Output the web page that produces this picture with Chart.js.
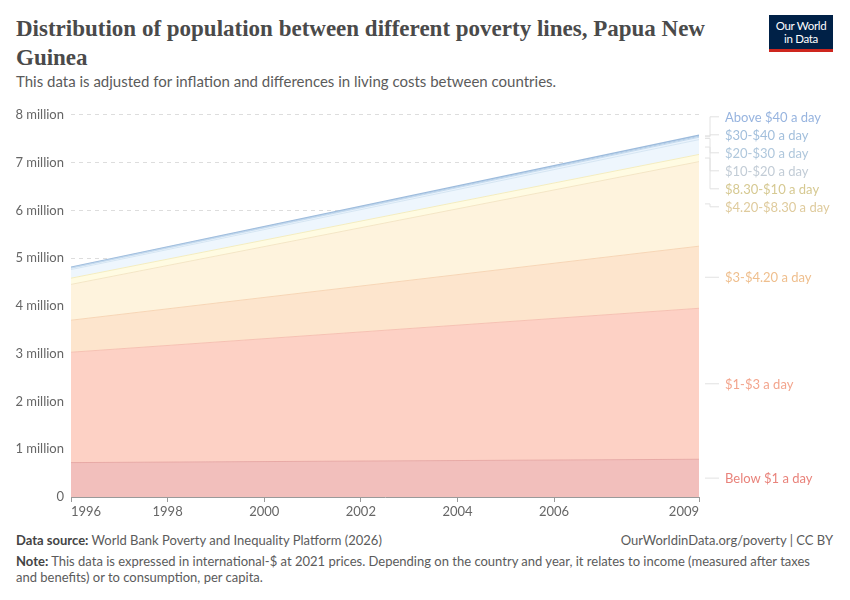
<!DOCTYPE html>
<html>
<head>
<meta charset="utf-8">
<script src="https://cdn.jsdelivr.net/npm/chart.js@4"></script>
<style>
  html, body { margin: 0; padding: 0; background: #fff; }
  body { width: 850px; height: 600px; position: relative; overflow: hidden; font-family: Lato, "Noto Sans", sans-serif; }
  #title { position: absolute; left: 16px; top: 14px; width: 740px; font-family: "Liberation Serif", "DejaVu Serif", serif; font-weight: bold; font-size: 23px; line-height: 29px; color: #4a4a4a; }
  #subtitle { position: absolute; left: 16px; top: 72px; font-size: 15px; color: #5b5b5b; }
  #logo { position: absolute; left: 769px; top: 15px; width: 64px; background: #002147; border-bottom: 3px solid #ce261e; color: #fff; font-size: 11.5px; line-height: 13px; text-align: center; padding-top: 4px; box-sizing: content-box; height: 30px; letter-spacing: -0.3px; }
  #chartwrap { position: absolute; left: 0; top: 100px; width: 850px; height: 420px; }
  #source { position: absolute; left: 16px; top: 532px; font-size: 13px; color: #5b5b5b; }
  #source b, #note b { font-weight: bold; color: #444; }
  #credit { position: absolute; right: 17px; top: 532px; font-size: 13px; color: #5b5b5b; }
  #note { position: absolute; left: 16px; top: 553px; width: 810px; font-size: 13px; line-height: 16px; color: #5b5b5b; }
</style>
</head>
<body>
<div id="title">Distribution of population between different poverty lines, Papua New<br>Guinea</div>
<div id="subtitle">This data is adjusted for inflation and differences in living costs between countries.</div>
<div id="logo">Our World<br>in Data</div>
<div id="chartwrap"><canvas id="c" width="850" height="420"></canvas></div>
<div id="source"><b>Data source:</b> World Bank Poverty and Inequality Platform (2026)</div>
<div id="credit">OurWorldinData.org/poverty | CC BY</div>
<div id="note"><b>Note:</b> This data is expressed in international-$ at 2021 prices. Depending on the country and year, it relates to income (measured after taxes and benefits) or to consumption, per capita.</div>
<script>
const years = [1996, 2009];
const xTicks = [1996, 1998, 2000, 2002, 2004, 2006, 2009];
const yTicks = [0, 1e6, 2e6, 3e6, 4e6, 5e6, 6e6, 7e6, 8e6];
const seriesNames = ["Below $1 a day", "$1-$3 a day", "$3-$4.20 a day", "$4.20-$8.30 a day", "$8.30-$10 a day", "$10-$20 a day", "$20-$30 a day", "$30-$40 a day", "Above $40 a day"];
const below1   = [720000, 790000];
const d1to3    = [2310000, 3160000];
const d3to42   = [670000, 1300000];
const d42to83  = [750000, 1770000];
const d83to10  = [130000, 150000];
const d10to20  = [180000, 310000];
const d20to30  = [30000, 50000];
const d30to40  = [10000, 20000];
const above40  = [10000, 20000];
const seriesValues = [below1, d1to3, d3to42, d42to83, d83to10, d10to20, d20to30, d30to40, above40];
const fillColors   = ["#f2bfbc", "#fdd1c5", "#fde5cd", "#fef3dd", "#fffbe2", "#eef6fd", "#eaf3fc", "#e6f0fb", "#e3eefa"];
const lineColors   = ["#e8aaa6", "#f6c2b3", "#f7d6b6", "#f4e6c6", "#f4edc0", "#d6e6f3", "#c4daee", "#b2cce6", "#9dbbdc"];
const labelColors  = ["#e9837b", "#f3a58d", "#efbf8e", "#dfcb9d", "#d6c992", "#c2ccd6", "#afc7dc", "#a2bfdc", "#97b4df"];

const datasets = seriesValues.map((vals, i) => ({
  label: seriesNames[i],
  data: years.map((y, j) => ({ x: y, y: vals[j] })),
  backgroundColor: fillColors[i],
  borderColor: lineColors[i],
  borderWidth: i === seriesValues.length - 1 ? 1.5 : 1,
  pointRadius: 0,
  fill: i === 0 ? 'origin' : '-1',
  tension: 0
}));

const labelPlugin = {
  id: 'endLabels',
  afterDatasetsDraw(chart) {
    const ctx = chart.ctx;
    const area = chart.chartArea;
    const yScale = chart.scales.y;
    const items = [];
    chart.data.datasets.forEach((ds, i) => {
      const meta = chart.getDatasetMeta(i);
      const pt = meta.data[meta.data.length - 1];
      const top = pt.y;
      let bottom;
      if (i === 0) bottom = yScale.getPixelForValue(0);
      else { const pm = chart.getDatasetMeta(i - 1); bottom = pm.data[pm.data.length - 1].y; }
      items.push({ i, nat: (top + bottom) / 2, text: ds.label });
    });
    items.sort((a, b) => a.nat - b.nat);
    const gap = 18, minY = area.top + 2, maxY = area.bottom;
    let clusters = items.map(it => ({ members: [it] }));
    const place = (c) => {
      const n = c.members.length;
      const mean = c.members.reduce((s, m) => s + m.nat, 0) / n;
      let start = mean - (n - 1) * gap / 2;
      if (start < minY) start = minY;
      if (start + (n - 1) * gap > maxY) start = maxY - (n - 1) * gap;
      c.start = start; c.end = start + (n - 1) * gap;
    };
    let changed = true;
    while (changed) {
      changed = false;
      clusters.forEach(place);
      for (let k = 0; k < clusters.length - 1; k++) {
        if (clusters[k].end + gap > clusters[k + 1].start + 0.01) {
          clusters[k].members = clusters[k].members.concat(clusters[k + 1].members);
          clusters.splice(k + 1, 1);
          changed = true;
          break;
        }
      }
    }
    const r = area.right;
    ctx.save();
    ctx.font = '13px Lato, "Noto Sans", sans-serif';
    ctx.textBaseline = 'middle';
    ctx.textAlign = 'left';
    clusters.forEach(c => {
      c.members.forEach((m, k) => {
        const ly = c.start + k * gap;
        ctx.strokeStyle = '#e2e2e2';
        ctx.lineWidth = 1;
        ctx.beginPath();
        if (Math.abs(ly - m.nat) < 1) {
          ctx.moveTo(r + 6, ly); ctx.lineTo(r + 20, ly);
        } else {
          ctx.moveTo(r + 6, m.nat); ctx.lineTo(r + 11, m.nat);
          ctx.lineTo(r + 11, ly); ctx.lineTo(r + 20, ly);
        }
        ctx.stroke();
        ctx.fillStyle = labelColors[m.i];
        ctx.fillText(m.text, r + 26, ly + 1);
      });
    });
    ctx.restore();
  }
};

new Chart(document.getElementById('c'), {
  type: 'line',
  data: { datasets },
  plugins: [labelPlugin],
  options: {
    responsive: false,
    animation: false,
    events: [],
    layout: { padding: { left: 0, right: 151, top: 13, bottom: 0 } },
    plugins: { legend: { display: false }, tooltip: { enabled: false } },
    scales: {
      x: {
        type: 'linear',
        min: 1996, max: 2009,
        afterBuildTicks: (s) => { s.ticks = xTicks.map(v => ({ value: v })); },
        afterFit: (s) => { s.height = 23; },
        ticks: { align: 'inner', color: '#666', font: { family: 'Lato', size: 13 }, padding: 2, maxRotation: 0, callback: (v) => String(v) },
        grid: { drawOnChartArea: false, drawTicks: true, tickLength: 5, color: '#9a9a9a' },
        border: { display: true, color: '#9a9a9a' }
      },
      y: {
        stacked: true,
        min: 0, max: 8e6,
        afterBuildTicks: (s) => { s.ticks = yTicks.map(v => ({ value: v })); },
        afterFit: (s) => { s.width = 71; },
        ticks: { color: '#666', font: { family: 'Lato', size: 13 }, padding: 7, callback: (v) => v === 0 ? '0' : (v / 1e6) + ' million' },
        grid: { drawTicks: false, color: (c) => c.tick && c.tick.value === 0 ? 'rgba(0,0,0,0)' : '#dddddd' },
        border: { display: false, dash: [4, 4] }
      }
    }
  }
});
</script>
</body>
</html>
